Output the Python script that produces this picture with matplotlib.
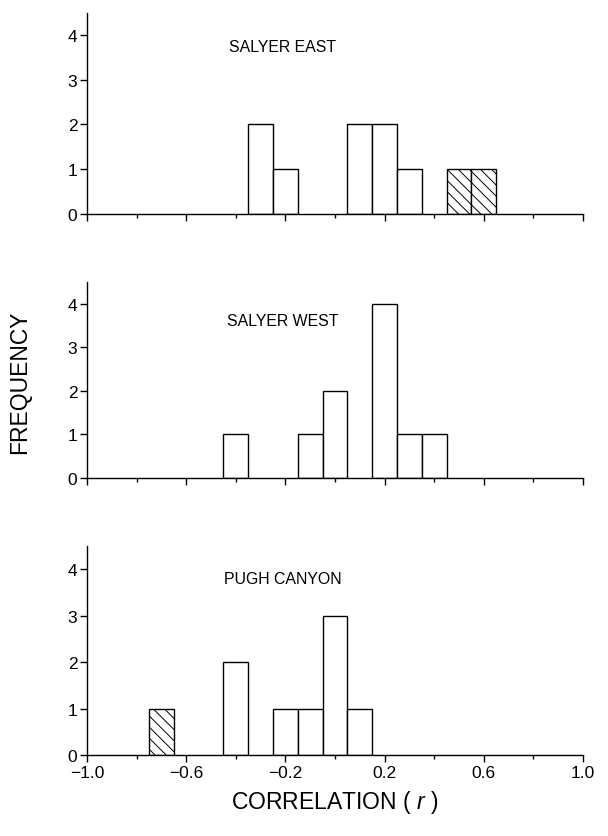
import matplotlib
matplotlib.use("Agg")
import matplotlib.pyplot as plt
from matplotlib import font_manager
import numpy as np

# ---- data ----
east_centers = [-0.3, -0.2, 0.1, 0.2, 0.3, 0.5, 0.6]
east_counts = [2, 1, 2, 2, 1, 1, 1]
east_hatched = [False, False, False, False, False, True, True]

west_centers = [-0.4, -0.1, 0.0, 0.2, 0.3, 0.4]
west_counts = [1, 1, 2, 4, 1, 1]
west_hatched = [False, False, False, False, False, False]

pugh_centers = [-0.7, -0.4, -0.2, -0.1, 0.0, 0.1]
pugh_counts = [1, 2, 1, 1, 3, 1]
pugh_hatched = [True, False, False, False, False, False]

panel_names = ["SALYER EAST", "SALYER WEST", "PUGH CANYON"]
x_major = [-1.0, -0.6, -0.2, 0.2, 0.6, 1.0]
x_major_labels = ["\u22121.0", "\u22120.6", "\u22120.2", "0.2", "0.6", "1.0"]
x_minor = [-0.8, -0.4, 0.0, 0.4, 0.8]
y_ticks = [0, 1, 2, 3, 4]
bin_width = 0.1

available = {f.name for f in font_manager.fontManager.ttflist}
base_font = "Liberation Sans" if "Liberation Sans" in available else "DejaVu Sans"
narrow_font = "Liberation Sans Narrow" if "Liberation Sans Narrow" in available else None
label_size = 12 if narrow_font else 11.4
label_family = [narrow_font or base_font, "DejaVu Sans"]

plt.rcParams["font.family"] = [base_font, "DejaVu Sans"]
plt.rcParams["hatch.linewidth"] = 0.7
plt.rcParams["mathtext.fontset"] = "custom"
plt.rcParams["mathtext.rm"] = base_font
plt.rcParams["mathtext.it"] = base_font + ":italic"

fig = plt.figure(figsize=(6.08, 8.37), dpi=100)

left = 87 / 608
width = (583 - 87) / 608
rects = [
    (1 - 215 / 837, (215 - 13.6) / 837),
    (1 - 479 / 837, (479 - 282.7) / 837),
    (1 - 756 / 837, (756 - 547) / 837),
]

datasets = [
    (east_centers, east_counts, east_hatched),
    (west_centers, west_counts, west_hatched),
    (pugh_centers, pugh_counts, pugh_hatched),
]
label_pos = [(-0.427, 3.75), (-0.434, 3.62), (-0.446, 3.8)]

for i, ((bottom, height), (cent, cnt, hat)) in enumerate(zip(rects, datasets)):
    ax = fig.add_axes([left, bottom, width, height])
    for c, n, h in zip(cent, cnt, hat):
        ax.bar(c, n, width=bin_width, align="center", facecolor="white",
               edgecolor="black", linewidth=1.0, hatch="\\\\\\" if h else None,
               zorder=2)
    ax.set_xlim(-1.0, 1.0)
    ax.set_ylim(0, 4.5)
    for s in ["top", "right"]:
        ax.spines[s].set_visible(False)
    for s in ["left", "bottom"]:
        ax.spines[s].set_linewidth(1.0)
    ax.set_xticks(x_major)
    ax.set_xticks(x_minor, minor=True)
    if i == 2:
        ax.set_xticklabels(x_major_labels)
    else:
        ax.set_xticklabels([])
    ax.set_yticks(y_ticks)
    ax.tick_params(axis="x", which="major", direction="out", length=5, width=1.0,
                   labelsize=12.5, pad=2)
    ax.tick_params(axis="x", which="minor", direction="out", length=3, width=1.0)
    ax.tick_params(axis="y", direction="out", length=5, width=1.0, labelsize=12.5, pad=2)
    ax.text(label_pos[i][0], label_pos[i][1], panel_names[i], fontsize=label_size,
            family=label_family, ha="left", va="center")

fig.text(20 / 608, 1 - 382 / 837, "FREQUENCY", rotation=90, fontsize=16.5,
         ha="center", va="center")
fig.text(335 / 608, 1 - 803 / 837, r"CORRELATION ( $\mathit{r}$ )", fontsize=16.5,
         ha="center", va="center")

fig.savefig("out.png", dpi=100)
